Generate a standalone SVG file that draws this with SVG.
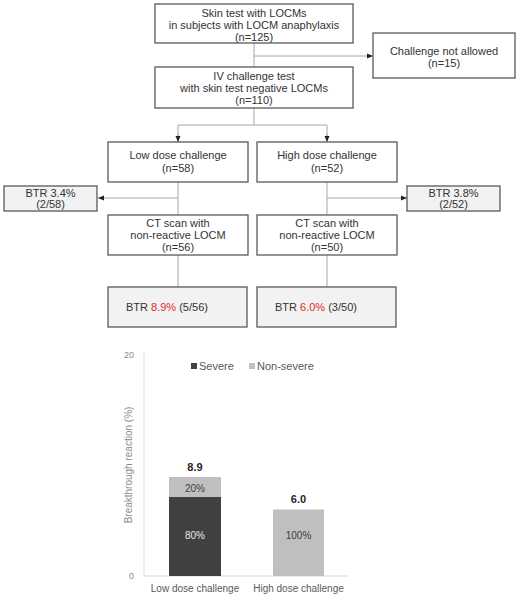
<svg xmlns="http://www.w3.org/2000/svg" width="524" height="599" viewBox="0 0 524 599">
<style>
text{font-family:"Liberation Sans",Arial,sans-serif;}
.box{fill:#ffffff;stroke:#595959;stroke-width:1.3;}
.gbox{fill:#f2f2f2;stroke:#595959;stroke-width:1.3;}
.t{font-size:11px;fill:#333333;text-anchor:middle;}
.tl{font-size:11px;fill:#333333;}
.red{fill:#e02b2b;}
.ln{fill:none;stroke:#a6a6a6;stroke-width:1;}
.ct{font-size:10px;text-anchor:middle;}
</style>
<defs>
<marker id="ah" viewBox="0 0 6 6" refX="6" refY="3" markerWidth="6" markerHeight="6" orient="auto" markerUnits="userSpaceOnUse">
<path d="M0,0.5 L6,3 L0,5.5 z" fill="#222222"/>
</marker>
</defs>

<g id="connectors">
<line class="ln" x1="254" y1="43" x2="254" y2="67"/>
<line class="ln" x1="254" y1="56" x2="373" y2="56" marker-end="url(#ah)"/>
<line class="ln" x1="254" y1="108" x2="254" y2="125"/>
<polyline class="ln" points="178,142 178,125 327,125 327,142"/>
<line class="ln" x1="178" y1="134" x2="178" y2="142" marker-end="url(#ah)"/>
<line class="ln" x1="327" y1="134" x2="327" y2="142" marker-end="url(#ah)"/>
<line class="ln" x1="178" y1="182" x2="178" y2="215"/>
<line class="ln" x1="178" y1="198" x2="98" y2="198" marker-end="url(#ah)"/>
<line class="ln" x1="327" y1="182" x2="327" y2="215"/>
<line class="ln" x1="327" y1="198" x2="407" y2="198" marker-end="url(#ah)"/>
<line class="ln" x1="178" y1="255" x2="178" y2="287"/>
<line class="ln" x1="327" y1="255" x2="327" y2="287"/>
</g>

<g id="n1">
<rect class="box" x="155" y="4" width="198" height="39"/>
<text class="t" x="254" y="17">Skin test with LOCMs</text>
<text class="t" x="254" y="29">in subjects with LOCM anaphylaxis</text>
<text class="t" x="254" y="41">(n=125)</text>
</g>
<g id="n2">
<rect class="box" x="373" y="33" width="142" height="45"/>
<text class="t" x="444" y="55">Challenge not allowed</text>
<text class="t" x="444" y="67">(n=15)</text>
</g>
<g id="n3">
<rect class="box" x="155" y="67" width="198" height="41"/>
<text class="t" x="254" y="80">IV challenge test</text>
<text class="t" x="254" y="92">with skin test negative LOCMs</text>
<text class="t" x="254" y="104">(n=110)</text>
</g>
<g id="n4">
<rect class="box" x="108" y="142" width="140" height="40"/>
<text class="t" x="178" y="159">Low dose challenge</text>
<text class="t" x="178" y="172">(n=58)</text>
</g>
<g id="n5">
<rect class="box" x="257" y="142" width="140" height="40"/>
<text class="t" x="327" y="159">High dose challenge</text>
<text class="t" x="327" y="172">(n=52)</text>
</g>
<g id="n6">
<rect class="gbox" x="4" y="186" width="93" height="25"/>
<text class="t" x="50.5" y="197">BTR 3.4%</text>
<text class="t" x="50.5" y="208">(2/58)</text>
</g>
<g id="n7">
<rect class="gbox" x="407" y="186" width="93" height="25"/>
<text class="t" x="453.5" y="197">BTR 3.8%</text>
<text class="t" x="453.5" y="208">(2/52)</text>
</g>
<g id="n8">
<rect class="box" x="108" y="215" width="140" height="40"/>
<text class="t" x="178" y="227">CT scan with</text>
<text class="t" x="178" y="239">non-reactive LOCM</text>
<text class="t" x="178" y="251">(n=56)</text>
</g>
<g id="n9">
<rect class="box" x="257" y="215" width="140" height="40"/>
<text class="t" x="327" y="227">CT scan with</text>
<text class="t" x="327" y="239">non-reactive LOCM</text>
<text class="t" x="327" y="251">(n=50)</text>
</g>
<g id="n10">
<rect class="gbox" x="108" y="287" width="139" height="40"/>
<text class="tl" x="126" y="311">BTR <tspan class="red">8.9%</tspan> (5/56)</text>
</g>
<g id="n11">
<rect class="gbox" x="257" y="287" width="139" height="40"/>
<text class="tl" x="275" y="311">BTR <tspan class="red">6.0%</tspan> (3/50)</text>
</g>

<g id="chart">
<line x1="144" y1="352" x2="144" y2="576" stroke="#d9d9d9" stroke-width="1"/>
<line x1="144" y1="576" x2="349" y2="576" stroke="#d9d9d9" stroke-width="1"/>
<text x="134" y="358" fill="#8c8c8c" font-size="9" text-anchor="end">20</text>
<text x="134" y="579" fill="#8c8c8c" font-size="9" text-anchor="end">0</text>
<text x="0" y="0" transform="translate(132,465) rotate(-90)" fill="#8c8c8c" font-size="10" text-anchor="middle">Breakthrough reaction (%)</text>
<rect x="191" y="363" width="6" height="6" fill="#404040"/>
<text x="199" y="370" fill="#595959" font-size="11">Severe</text>
<rect x="249" y="363" width="6" height="6" fill="#bfbfbf"/>
<text x="257" y="370" fill="#595959" font-size="11">Non-severe</text>
<rect x="169" y="477" width="52" height="20" fill="#bfbfbf"/>
<rect x="169" y="497" width="52" height="79" fill="#404040"/>
<rect x="273" y="509.5" width="51" height="66.5" fill="#bfbfbf"/>
<text x="195" y="471" font-size="11" font-weight="bold" fill="#262626" text-anchor="middle">8.9</text>
<text x="298.5" y="503" font-size="11" font-weight="bold" fill="#262626" text-anchor="middle">6.0</text>
<text x="195" y="492" class="ct" fill="#404040">20%</text>
<text x="195" y="539" class="ct" fill="#e6e6e6">80%</text>
<text x="298.5" y="539" class="ct" fill="#404040">100%</text>
<text x="195" y="592" class="ct" fill="#595959">Low dose challenge</text>
<text x="298.5" y="592" class="ct" fill="#595959">High dose challenge</text>
</g>
</svg>
